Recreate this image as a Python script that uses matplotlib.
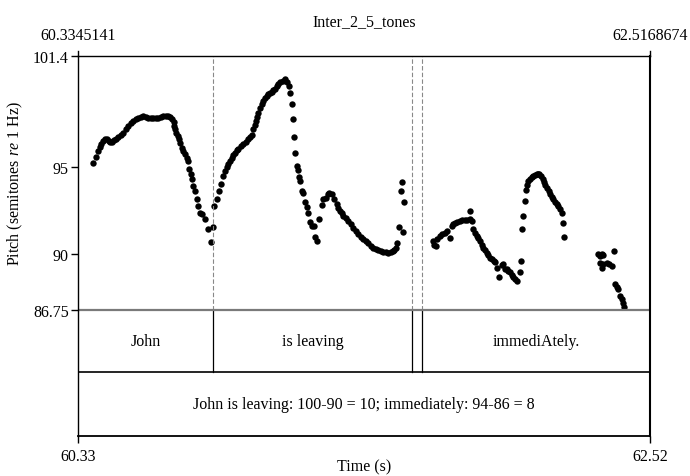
import matplotlib.pyplot as plt

plt.rcParams['font.family'] = ['Liberation Serif', 'DejaVu Serif']
plt.rcParams['mathtext.fontset'] = 'custom'
plt.rcParams['mathtext.rm'] = 'Liberation Serif'
plt.rcParams['mathtext.it'] = 'Liberation Serif:italic'

# time window and pitch range
t_start = 60.3345141
t_end = 62.5168674
p_min = 86.75
p_max = 101.4

# interval tier
bounds = [60.850, 61.608, 61.646]
words = ["John", "is leaving", "", "immediAtely."]
note = "John is leaving: 100-90 = 10; immediately: 94-86 = 8"

# pitch points (s, semitones re 1 Hz)
times = [
    60.393, 60.402, 60.410, 60.417, 60.422, 60.430, 60.437, 60.444, 60.451, 60.457,
    60.464, 60.472, 60.481, 60.488, 60.499, 60.507, 60.518, 60.526, 60.537, 60.545,
    60.556, 60.564, 60.575, 60.584, 60.594, 60.603, 60.613, 60.622, 60.632, 60.641,
    60.651, 60.660, 60.670, 60.679, 60.687, 60.694, 60.699, 60.701, 60.706, 60.710,
    60.716, 60.719, 60.724, 60.730, 60.736, 60.743, 60.749, 60.755,
    60.759, 60.764, 60.768, 60.774, 60.781, 60.787, 60.793, 60.800, 60.809, 60.819,
    60.832, 60.841, 60.848,
    60.854, 60.864, 60.874, 60.880, 60.889, 60.895, 60.902, 60.908, 60.914, 60.921,
    60.927, 60.933, 60.940, 60.946, 60.956, 60.965, 60.975, 60.984, 60.991, 60.997,
    61.003, 61.009, 61.014, 61.018, 61.022, 61.029, 61.035, 61.041, 61.048, 61.054,
    61.060, 61.067, 61.073, 61.080, 61.086, 61.092, 61.099, 61.107, 61.115, 61.124,
    61.133, 61.141,
    61.143, 61.150, 61.154, 61.159, 61.162, 61.169, 61.172, 61.178, 61.181, 61.188,
    61.192, 61.200, 61.207, 61.213, 61.218, 61.226, 61.235, 61.239, 61.245,
    61.255, 61.264, 61.270, 61.281, 61.288, 61.293, 61.302, 61.311, 61.321, 61.328,
    61.334, 61.340, 61.347, 61.356, 61.366, 61.376, 61.385, 61.395, 61.404, 61.414,
    61.423, 61.433, 61.442, 61.452, 61.461, 61.471, 61.480, 61.490, 61.499, 61.509,
    61.518, 61.527, 61.535, 61.542, 61.548,
    61.553, 61.559, 61.565, 61.569, 61.573, 61.578,
    61.690, 61.694, 61.700, 61.706, 61.715, 61.725, 61.735, 61.744, 61.754, 61.760,
    61.767, 61.772, 61.782, 61.792, 61.801, 61.811, 61.820, 61.830, 61.832, 61.836,
    61.842, 61.849, 61.855, 61.862, 61.868, 61.875, 61.881, 61.888, 61.894, 61.900,
    61.906, 61.913, 61.920, 61.925, 61.932, 61.941, 61.951, 61.957, 61.964, 61.970,
    61.977, 61.983, 61.989, 61.995, 62.002, 62.008, 62.021, 62.025, 62.028, 62.033,
    62.039, 62.043, 62.048, 62.052, 62.059, 62.065, 62.072, 62.078, 62.084, 62.090,
    62.095, 62.101, 62.107, 62.112, 62.118, 62.124, 62.130, 62.135, 62.142, 62.148,
    62.155, 62.161, 62.167, 62.173, 62.180, 62.184, 62.189,
    62.319, 62.326, 62.332, 62.338, 62.328, 62.334, 62.339, 62.352, 62.361, 62.371,
    62.380, 62.384, 62.390, 62.396, 62.403, 62.409, 62.413, 62.419,
]
pitch = [
    95.25, 95.60, 95.92, 96.14, 96.31, 96.48, 96.60, 96.64, 96.51, 96.41,
    96.45, 96.54, 96.64, 96.70, 96.86, 96.98, 97.18, 97.37, 97.52, 97.65,
    97.78, 97.85, 97.90, 97.91, 97.88, 97.85, 97.82, 97.81, 97.83, 97.85,
    97.90, 97.94, 97.95, 97.94, 97.87, 97.75, 97.58, 97.37, 97.18, 96.98,
    96.77, 96.60, 96.37, 96.12, 95.91, 95.73, 95.53, 95.35,
    94.87, 94.58, 94.29, 93.90, 93.62, 93.14, 92.75, 92.37, 92.27, 91.98,
    91.41, 90.64, 91.55,
    92.75, 93.14, 93.62, 94.00, 94.48, 94.77, 94.98, 95.16, 95.36, 95.54,
    95.70, 95.83, 95.95, 96.06, 96.19, 96.31, 96.45, 96.60, 96.71, 96.83,
    97.18, 97.41, 97.65, 97.90, 98.14, 98.39, 98.62, 98.79, 98.95, 99.08,
    99.19, 99.28, 99.33, 99.43, 99.52, 99.66, 99.77, 99.89, 99.96, 100.06,
    99.90, 99.67,
    99.24, 98.62, 97.75, 96.75, 95.83, 95.06, 94.81, 94.39, 94.19, 93.62,
    93.52, 92.95, 92.66, 92.37, 91.81, 91.61, 91.60, 90.93, 90.73,
    91.98, 92.79, 93.14, 93.23, 93.42, 93.52, 93.42, 93.14, 92.85, 92.65,
    92.46, 92.33, 92.17, 92.04, 91.88, 91.69, 91.50, 91.31, 91.12, 90.97,
    90.83, 90.71, 90.60, 90.46, 90.35, 90.26, 90.21, 90.15, 90.10, 90.07,
    90.06, 90.09, 90.15, 90.22, 90.31,
    90.60, 91.56, 93.62, 94.15, 91.23, 92.95,
    90.73, 90.51, 90.44, 90.83, 91.02, 91.12, 91.21, 91.32, 90.89, 91.60,
    91.69, 91.75, 91.81, 91.88, 91.91, 91.94, 91.95, 92.43, 91.98, 91.87,
    91.41, 91.20, 91.02, 90.89, 90.71, 90.51, 90.34, 90.19, 90.03, 89.90,
    89.77, 89.67, 89.56, 89.53, 89.17, 88.65, 89.33, 89.39, 89.10, 89.10,
    88.98, 88.91, 88.75, 88.64, 88.52, 88.39, 88.91, 89.58, 91.41, 92.16,
    93.05, 93.66, 93.94, 94.19, 94.32, 94.39, 94.46, 94.55, 94.58, 94.61,
    94.58, 94.46, 94.29, 94.12, 93.94, 93.77, 93.60, 93.42, 93.28, 93.14,
    92.99, 92.85, 92.73, 92.56, 92.37, 91.75, 90.93,
    89.96, 89.88, 90.00, 89.90, 89.44, 89.15, 89.39, 89.44, 89.39, 89.27,
    90.16, 88.23, 88.10, 87.98, 87.56, 87.37, 87.17, 86.92,
]

yticks = [86.75, 90, 95, 101.4]
ytick_labels = ["86.75", "90", "95", "101.4"]

# tiers drawn below the pitch area in semitone units
st_per_px = 5 / 86.6
tier1_bottom = p_min - 62 * st_per_px
tier2_bottom = p_min - 126 * st_per_px

fig = plt.figure(figsize=(6.9, 4.77), dpi=100)
ax = fig.add_axes([78 / 690, 40 / 477, 572 / 690, 380 / 477])
ax.set_xlim(t_start, t_end)
ax.set_ylim(tier2_bottom, p_max)

ax.plot(times, pitch, 'o', color='black', markersize=4.6, markeredgewidth=0)

# dashed boundaries in the pitch area
for b in bounds:
    ax.plot([b, b], [p_min, p_max], color='#888888', linestyle=(0, (4, 2)), linewidth=0.8)
    ax.plot([b, b], [tier1_bottom, p_min], color='black', linewidth=0.9)

ax.axhline(p_min, color='#7a7a7a', linewidth=1.6)
ax.axhline(tier1_bottom, color='black', linewidth=1.2)

edges = [t_start] + bounds + [t_end]
tier1_mid = (p_min + tier1_bottom) / 2
for i, w in enumerate(words):
    if w:
        ax.text((edges[i] + edges[i + 1]) / 2, tier1_mid, w, ha='center', va='center', fontsize=11.5)
ax.text((t_start + t_end) / 2, (tier1_bottom + tier2_bottom) / 2, note,
        ha='center', va='center', fontsize=11.5)

for s in ax.spines.values():
    s.set_linewidth(1.0)
ax.spines['right'].set_linewidth(1.5)
ax.spines['bottom'].set_linewidth(1.3)

ax.set_yticks(yticks)
ax.set_yticklabels(ytick_labels, fontsize=11.5)
ax.set_xticks([t_start, t_end])
ax.set_xticklabels(["60.33", "62.52"], fontsize=11.5)
ax.tick_params(axis='both', direction='out', length=5, width=1, pad=1.5, color='black')
ax.tick_params(axis='x', pad=4)

# top time labels and small ticks
for t, lab in [(t_start, "60.3345141"), (t_end, "62.5168674")]:
    ax.annotate(lab, xy=(t, 1), xycoords=('data', 'axes fraction'), xytext=(0, 9),
                textcoords='offset points', ha='center', va='bottom', fontsize=11.5)
    ax.plot([t, t], [1, 1.012], transform=ax.get_xaxis_transform(), color='black',
            linewidth=1, clip_on=False)

fig.text(364 / 690, 1 - 22 / 477, "Inter_2_5_tones", ha='center', va='center', fontsize=11.5)
fig.text(364 / 690, 1 - 467 / 477, "Time (s)", ha='center', va='center', fontsize=11.5)
fig.text(15 / 690, 1 - 184 / 477, r'Pitch (semitones $\mathit{re}$ 1 Hz)', rotation=90,
         ha='center', va='center', fontsize=11.5)

fig.savefig("out.png", dpi=100)
